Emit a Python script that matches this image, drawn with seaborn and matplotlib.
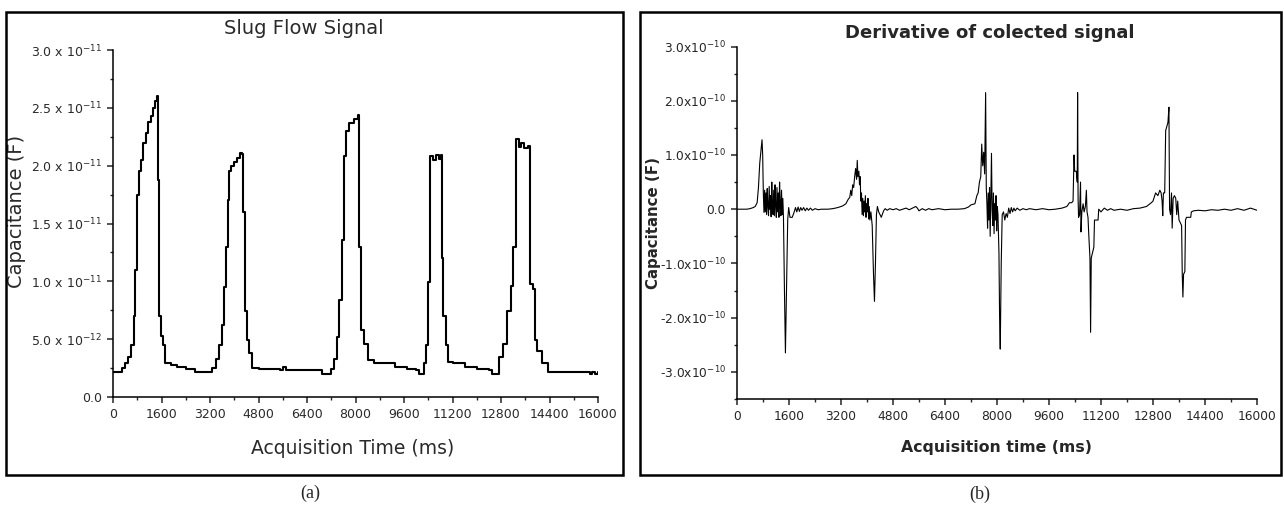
import numpy as np
import pandas as pd
import matplotlib
matplotlib.use("Agg")
import matplotlib.pyplot as plt
from matplotlib.patches import Rectangle
from matplotlib.ticker import MultipleLocator
import seaborn as sns

# (a) slug flow signal, capacitance in pF
time_a = [0, 200, 300, 400, 500, 600, 680, 740, 790, 850,
          920, 1000, 1080, 1160, 1240, 1320, 1400, 1440, 1480, 1530,
          1580, 1640, 1700, 1900, 2100, 2400, 2700, 3000, 3100, 3250,
          3400, 3500, 3580, 3650, 3720, 3780, 3830, 3880, 3980, 4080,
          4200, 4250, 4290, 4360, 4420, 4500, 4580, 4800, 5500, 5620,
          5700, 6400, 6900, 7050, 7200, 7300, 7400, 7470, 7540, 7620,
          7680, 7800, 7950, 8080, 8120, 8170, 8280, 8400, 8600, 9300,
          9700, 10000, 10100, 10250, 10320, 10400, 10460, 10550, 10650, 10750,
          10830, 10860, 10900, 10970, 11050, 11200, 11600, 12000, 12400, 12500,
          12700, 12750, 12870, 12990, 13120, 13210, 13290, 13380, 13450, 13560,
          13700, 13750, 13840, 13930, 14000, 14160, 14360, 15000, 15700, 15750,
          15800, 15900, 16000]
cap_a_pf = [2.2, 2.2, 2.5, 2.9, 3.5, 4.5, 7.0, 11.0, 17.5, 19.5,
            20.5, 22.0, 22.8, 23.8, 24.3, 25.0, 25.6, 26.0, 18.8, 7.0,
            5.3, 4.5, 2.9, 2.8, 2.6, 2.4, 2.2, 2.2, 2.2, 2.5,
            3.3, 4.5, 6.2, 9.5, 13.0, 17.0, 19.5, 20.0, 20.3, 20.7,
            21.1, 21.0, 16.0, 7.4, 4.9, 3.8, 2.5, 2.4, 2.3, 2.6,
            2.3, 2.3, 2.0, 2.0, 2.4, 3.3, 5.2, 8.4, 13.6, 20.8,
            23.0, 23.7, 24.0, 24.4, 13.0, 5.8, 4.6, 3.2, 2.9, 2.6,
            2.4, 2.3, 2.0, 2.9, 4.5, 9.9, 20.8, 20.5, 20.9, 20.6,
            20.9, 12.0, 7.0, 4.5, 3.0, 2.9, 2.6, 2.4, 2.3, 2.0,
            2.0, 3.5, 4.6, 7.4, 9.6, 13.0, 22.3, 21.6, 22.0, 21.5,
            21.7, 9.8, 9.3, 4.9, 4.0, 2.9, 2.2, 2.2, 2.2, 2.0,
            2.2, 2.0, 2.2]

# (b) derivative of the signal, in units of 1e-10 F
time_b = [0, 300, 400, 500, 560, 620, 660, 700, 740, 770,
          790, 810, 830, 850, 870, 890, 910, 930, 950, 970,
          990, 1010, 1030, 1050, 1070, 1090, 1110, 1130, 1150, 1170,
          1190, 1210, 1230, 1250, 1270, 1290, 1310, 1330, 1350, 1370,
          1390, 1410, 1430, 1460, 1490, 1530, 1560, 1590, 1630, 1700,
          1760, 1800, 1840, 1880, 1920, 1960, 2000, 2050, 2100, 2150,
          2200, 2260, 2320, 2400, 2500, 2600, 2800, 2950, 3100, 3250,
          3350, 3420, 3470, 3500, 3530, 3560, 3590, 3620, 3650, 3680,
          3700, 3720, 3750, 3770, 3790, 3810, 3830, 3850, 3870, 3890,
          3910, 3930, 3950, 3970, 3990, 4010, 4030, 4050, 4070, 4090,
          4120, 4160, 4200, 4230, 4260, 4290, 4320, 4360, 4400, 4440,
          4480, 4520, 4560, 4620, 4700, 4800, 4900, 5000, 5100, 5200,
          5300, 5400, 5500, 5550, 5600, 5700, 5800, 5900, 6000, 6200,
          6400, 6600, 6800, 7000, 7120, 7200, 7320, 7380, 7420, 7460,
          7500, 7530, 7560, 7590, 7620, 7650, 7670, 7690, 7710, 7730,
          7750, 7770, 7790, 7810, 7830, 7850, 7870, 7890, 7910, 7930,
          7950, 7970, 7990, 8010, 8030, 8060, 8080, 8100, 8130, 8160,
          8200, 8240, 8280, 8320, 8360, 8400, 8440, 8480, 8520, 8560,
          8620, 8700, 8800, 8900, 9000, 9200, 9400, 9600, 9800, 10000,
          10150, 10230, 10300, 10340, 10370, 10390, 10440, 10470, 10480, 10495,
          10510, 10540, 10570, 10585, 10610, 10650, 10680, 10720, 10750, 10770,
          10800, 10830, 10860, 10880, 10900, 10940, 10980, 11000, 11030, 11080,
          11110, 11130, 11200, 11300, 11400, 11500, 11600, 11800, 12000, 12200,
          12400, 12600, 12750, 12800, 12880, 12950, 13010, 13050, 13080, 13100,
          13120, 13160, 13190, 13260, 13290, 13310, 13340, 13370, 13390, 13420,
          13460, 13500, 13530, 13560, 13600, 13640, 13680, 13700, 13720, 13740,
          13780, 13800, 13830, 13900, 13960, 13980, 14050, 14200, 14400, 14600,
          14800, 15000, 15200, 15400, 15600, 15800, 15900, 16000]
deriv_b_e10 = [0, 0, 0.01, 0.03, 0.05, 0.12, 0.40, 0.85, 1.10, 1.28,
               1.00, 0.30, -0.06, 0.35, -0.05, 0.30, -0.10, 0.38, 0.05, -0.12,
               0.42, 0.00, 0.25, -0.14, 0.50, 0.10, -0.10, 0.35, -0.12, 0.45,
               0.05, -0.15, 0.40, -0.05, 0.30, -0.15, 0.50, 0.10, -0.12, 0.35,
               -0.10, 0.20, -0.15, -1.5, -2.65, -1.2, -0.2, 0.03, -0.15, -0.15,
               -0.05, 0.03, -0.05, 0.04, -0.04, 0.03, -0.02, 0.03, -0.03, 0.02,
               -0.02, 0.02, -0.02, 0.01, -0.01, 0.0, 0.0, 0.01, 0.03, 0.06,
               0.10, 0.18, 0.22, 0.35, 0.25, 0.45, 0.40, 0.60, 0.75, 0.55,
               0.90, 0.60, 0.70, 0.45, 0.60, 0.15, 0.30, -0.10, 0.20, -0.12,
               0.15, -0.05, 0.25, -0.15, 0.10, -0.05, 0.20, -0.18, 0.05, -0.20,
               -0.05, -0.30, -1.2, -1.70, -1.0, -0.10, 0.05, -0.05, -0.10, -0.15,
               -0.08, -0.02, 0.01, -0.02, 0.01, -0.01, 0.01, -0.02, 0.0, 0.02,
               -0.01, 0.02, 0.05, 0.02, -0.03, 0.01, -0.02, 0.01, -0.01, 0.01,
               -0.01, 0.0, 0.0, 0.01, 0.04, 0.08, 0.10, 0.25, 0.30, 0.50,
               0.60, 1.20, 0.80, 1.05, 0.65, 2.15, 0.40, 0.10, -0.35, 0.30,
               -0.20, 0.40, -0.50, 0.20, 1.03, 0.00, -0.30, 0.30, -0.45, 0.10,
               -0.20, 0.25, -0.40, 0.05, -0.10, -0.80, -2.00, -2.58, -1.00, -0.10,
               -0.05, -0.20, -0.08, -0.15, 0.02, -0.08, 0.03, -0.05, 0.02, -0.03,
               0.02, -0.02, 0.01, -0.01, 0.01, -0.01, 0.01, -0.01, 0.0, 0.02,
               0.05, 0.12, 0.12, 0.15, 1.00, 0.70, 0.70, 0.50, 2.15, 0.20,
               -0.15, -0.10, 0.50, -0.42, -0.05, 0.10, -0.05, 0.05, 0.35, -0.05,
               -0.15, -0.55, -0.90, -2.27, -0.90, -0.80, -0.70, -0.20, -0.20, -0.20,
               -0.20, 0.00, -0.05, 0.02, -0.02, 0.01, -0.02, 0.00, -0.02, 0.01,
               0.02, 0.05, 0.12, 0.15, 0.30, 0.25, 0.35, 0.30, 0.15, -0.12,
               0.30, 0.30, 1.45, 1.60, 1.88, 0.00, -0.10, 0.30, -0.35, 0.20,
               0.25, 0.20, -0.10, 0.15, -0.20, -0.25, -0.30, -1.20, -1.62, -1.20,
               -1.15, -0.20, -0.15, -0.15, -0.15, -0.05, -0.03, -0.02, -0.03, -0.01,
               -0.02, 0.0, -0.02, 0.01, -0.02, 0.02, 0.0, -0.02]

ticks_x = [0, 1600, 3200, 4800, 6400, 8000, 9600, 11200, 12800, 14400, 16000]
ticks_a = [0, 0.5e-11, 1.0e-11, 1.5e-11, 2.0e-11, 2.5e-11, 3.0e-11]
labels_a = ["0.0", r"5.0 x 10$^{\mathregular{-12}}$", r"1.0 x 10$^{\mathregular{-11}}$",
            r"1.5 x 10$^{\mathregular{-11}}$", r"2.0 x 10$^{\mathregular{-11}}$",
            r"2.5 x 10$^{\mathregular{-11}}$", r"3.0 x 10$^{\mathregular{-11}}$"]
ticks_b = [-3e-10, -2e-10, -1e-10, 0, 1e-10, 2e-10, 3e-10]
labels_b = [r"-3.0x10$^{\mathregular{-10}}$", r"-2.0x10$^{\mathregular{-10}}$",
            r"-1.0x10$^{\mathregular{-10}}$", "0.0", r"1.0x10$^{\mathregular{-10}}$",
            r"2.0x10$^{\mathregular{-10}}$", r"3.0x10$^{\mathregular{-10}}$"]

assert len(time_a) == len(cap_a_pf) and len(time_b) == len(deriv_b_e10)

sns.set_style("ticks")
plt.rcParams["font.family"] = ["DejaVu Sans"]

df_a = pd.DataFrame({"time": time_a, "cap": np.array(cap_a_pf) * 1e-12})
df_b = pd.DataFrame({"time": time_b, "cap": np.array(deriv_b_e10) * 1e-10})

W, H = 1284, 507
fig = plt.figure(figsize=(W / 100, H / 100), dpi=100)
ax_a = fig.add_axes([113 / W, 1 - 397 / H, 485 / W, 347 / H])
ax_b = fig.add_axes([737 / W, 1 - 399 / H, 520 / W, 352.5 / H])

sns.lineplot(data=df_a, x="time", y="cap", ax=ax_a, color="black", lw=1.5,
             drawstyle="steps-post", estimator=None, sort=False)
sns.lineplot(data=df_b, x="time", y="cap", ax=ax_b, color="black", lw=0.8,
             estimator=None, sort=False)

gray = "#2a2a2a"
for ax in (ax_a, ax_b):
    sns.despine(ax=ax)
    ax.set_xlim(0, 16000)
    ax.set_xticks(ticks_x)
    ax.xaxis.set_minor_locator(MultipleLocator(800))
    ax.tick_params(which="major", direction="out", length=4.5, width=1.1)
    ax.tick_params(which="minor", direction="out", length=2.5, width=1.0)
    for s in ("left", "bottom"):
        ax.spines[s].set_linewidth(1.1)
        ax.spines[s].set_color("black")

ax_a.set_ylim(0, 3.0e-11)
ax_a.set_yticks(ticks_a, labels=labels_a)
ax_a.yaxis.set_minor_locator(MultipleLocator(0.25e-11))
ax_a.tick_params(labelsize=9, labelcolor=gray)

ax_b.set_ylim(-3.5e-10, 3.0e-10)
ax_b.set_yticks(ticks_b, labels=labels_b)
ax_b.yaxis.set_minor_locator(MultipleLocator(0.5e-10))
ax_b.tick_params(labelsize=8.8)

ax_a.set_xlabel("Acquisition Time (ms)", fontsize=13.5, color=gray)
ax_a.set_ylabel("Capacitance (F)", fontsize=14, color=gray)
ax_b.set_xlabel("Acquisition time (ms)", fontsize=11.3, fontweight="bold")
ax_b.set_ylabel("Capacitance (F)", fontsize=10.8, fontweight="bold")
for ax in (ax_a, ax_b):
    ax.xaxis.label.set_verticalalignment("center")
    ax.yaxis.label.set_verticalalignment("center")
ax_a.xaxis.set_label_coords(0.494, -0.147)
ax_a.yaxis.set_label_coords(-0.198, 0.536)
ax_b.xaxis.set_label_coords(0.499, -0.139)
ax_b.yaxis.set_label_coords(-0.160, 0.498)

fig.text(304 / W, 1 - 29 / H, "Slug Flow Signal", ha="center", va="center",
         fontsize=14, color=gray)
fig.text(990 / W, 1 - 33 / H, "Derivative of colected signal", ha="center",
         va="center", fontsize=13, fontweight="bold")

# panel frames and captions
fig.patches.append(Rectangle((6 / W, 1 - 475 / H), 617 / W, 463 / H,
                             transform=fig.transFigure, fill=False, lw=1.8, ec="black"))
fig.patches.append(Rectangle((640 / W, 1 - 475 / H), 641 / W, 463 / H,
                             transform=fig.transFigure, fill=False, lw=1.8, ec="black"))
fig.text(310 / W, 1 - 493 / H, "(a)", ha="center", va="center", fontsize=13,
         family=["Liberation Serif", "DejaVu Serif"])
fig.text(980 / W, 1 - 494 / H, "(b)", ha="center", va="center", fontsize=13,
         family=["Liberation Serif", "DejaVu Serif"])

fig.savefig("out.png", dpi=100)
